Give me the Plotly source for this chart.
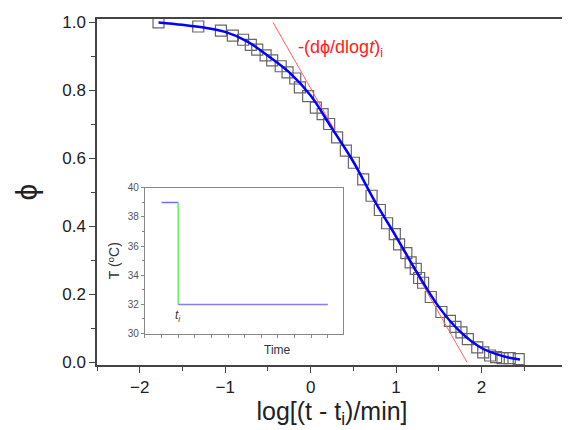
import plotly.graph_objects as go

# measured relaxation data (squares)
log_t = [-1.78, -1.315, -1.05, -0.91, -0.79, -0.70, -0.625, -0.527, -0.45, -0.35,
         -0.27, -0.18, -0.126, -0.029, 0.061, 0.14, 0.217, 0.31, 0.412, 0.506,
         0.615, 0.713, 0.81, 0.895, 0.985, 1.035, 1.12, 1.17, 1.23, 1.27,
         1.316, 1.406, 1.53, 1.63, 1.695, 1.765, 1.84, 1.95, 2.02, 2.10,
         2.17, 2.245, 2.33, 2.435]
phi = [1.0, 0.988, 0.976, 0.961, 0.949, 0.934, 0.92, 0.903, 0.888, 0.871,
       0.853, 0.835, 0.809, 0.783, 0.749, 0.730, 0.701, 0.662, 0.623, 0.587,
       0.538, 0.490, 0.448, 0.409, 0.377, 0.347, 0.321, 0.294, 0.275, 0.248,
       0.234, 0.192, 0.148, 0.122, 0.104, 0.088, 0.068, 0.044, 0.029, 0.020,
       0.015, 0.0125, 0.012, 0.009]

# fitted curve (blue)
fit_x = [-1.78, -1.5, -1.25, -1.0, -0.75, -0.5, -0.25, 0.0, 0.25, 0.5,
         0.75, 1.0, 1.25, 1.5, 1.75, 2.0, 2.25, 2.45]
fit_y = [1.0, 0.993, 0.985, 0.972, 0.945, 0.902, 0.853, 0.785, 0.688, 0.59,
         0.474, 0.37, 0.262, 0.163, 0.09, 0.042, 0.018, 0.008]

# tangent at inflection point (red)
tan_x = [-0.44, 1.83]
tan_y = [1.0, 0.0]

# inset: temperature protocol
time_hi = [0, 1]
temp_hi = [39, 39]
time_drop = [1, 1]
temp_drop = [39, 32]
time_lo = [1, 10]
temp_lo = [32, 32]

FONT = "Liberation Sans, Arial, sans-serif"

fig = go.Figure()

fig.add_trace(go.Scatter(
    x=log_t, y=phi, mode="markers",
    marker=dict(symbol="square-open", size=11, color="#666666", line=dict(width=1.2)),
    showlegend=False
))
fig.add_trace(go.Scatter(
    x=tan_x, y=tan_y, mode="lines",
    line=dict(color="#ff6060", width=1),
    showlegend=False
))
fig.add_trace(go.Scatter(
    x=fit_x, y=fit_y, mode="lines",
    line=dict(color="#0000ff", width=2.5, shape="spline"),
    showlegend=False
))

# inset traces
fig.add_trace(go.Scatter(x=time_hi, y=temp_hi, mode="lines", xaxis="x2", yaxis="y2",
                         line=dict(color="#6f6fff", width=1.5), showlegend=False))
fig.add_trace(go.Scatter(x=time_drop, y=temp_drop, mode="lines", xaxis="x2", yaxis="y2",
                         line=dict(color="#66ee66", width=1.5), showlegend=False))
fig.add_trace(go.Scatter(x=time_lo, y=temp_lo, mode="lines", xaxis="x2", yaxis="y2",
                         line=dict(color="#8080ff", width=1.5), showlegend=False))

# page body adds an 8px offset, margins compensate for it
fig.update_layout(
    width=570, height=430,
    margin=dict(l=89, r=11, t=11, b=73),
    paper_bgcolor="white", plot_bgcolor="white",
    font=dict(family=FONT, color="#222222"),
    xaxis=dict(
        range=[-2.5, 3], dtick=1, tick0=0, automargin=False, ticklabeloverflow="allow",
        showline=True, linecolor="#444444", linewidth=1.5, mirror=True,
        ticks="outside", ticklen=6, tickcolor="#444444",
        minor=dict(dtick=0.5, ticklen=4, tickcolor="#444444"),
        showgrid=False, zeroline=False,
        tickfont=dict(size=17),
        title=dict(text="log[(t - t<sub>i</sub>)/min]", font=dict(size=25), standoff=2)
    ),
    yaxis=dict(
        range=[-0.008, 1.01], dtick=0.2, tick0=0, tickformat=".1f", automargin=False,
        showline=True, linecolor="#444444", linewidth=1.5, mirror=True,
        ticks="outside", ticklen=6, tickcolor="#444444",
        minor=dict(dtick=0.1, ticklen=4, tickcolor="#444444"),
        showgrid=False, zeroline=False,
        tickfont=dict(size=17),
        title=dict(text="ϕ", font=dict(size=30), standoff=16)
    ),
    xaxis2=dict(
        domain=[0.102, 0.523], anchor="y2", range=[-1, 10.9], automargin=False,
        dtick=1, tick0=0, showticklabels=False,
        showline=True, linecolor="#888888", linewidth=1, mirror=True,
        ticks="outside", ticklen=3, tickcolor="#888888",
        showgrid=False, zeroline=False
    ),
    yaxis2=dict(
        domain=[0.091, 0.512], anchor="x2", range=[30, 40], automargin=False,
        dtick=2, tick0=30,
        showline=True, linecolor="#888888", linewidth=1, mirror=True,
        ticks="outside", ticklen=3, tickcolor="#888888",
        minor=dict(dtick=1, ticklen=2, tickcolor="#888888"),
        showgrid=False, zeroline=False,
        tickfont=dict(size=10, color="#555555"),
        title=dict(text="T (<sup>o</sup>C)", font=dict(size=14, color="#333333"), standoff=4)
    ),
    annotations=[
        dict(text="-(dϕ/dlog<i>t</i>)<sub>i</sub>", xref="paper", yref="paper",
             x=0.423, y=0.915, xanchor="left", yanchor="middle", showarrow=False,
             font=dict(size=18, color="#ff2020")),
        dict(text="<i>t<sub>i</sub></i>", xref="x2", yref="y2", x=1, y=31.2,
             xanchor="center", yanchor="middle", showarrow=False,
             font=dict(size=12, color="#333333")),
        dict(text="Time", xref="x2 domain", yref="y2 domain", x=0.67, y=-0.11,
             xanchor="center", yanchor="middle", showarrow=False,
             font=dict(size=12, color="#333333")),
    ],
)

fig.write_html("out.html")
